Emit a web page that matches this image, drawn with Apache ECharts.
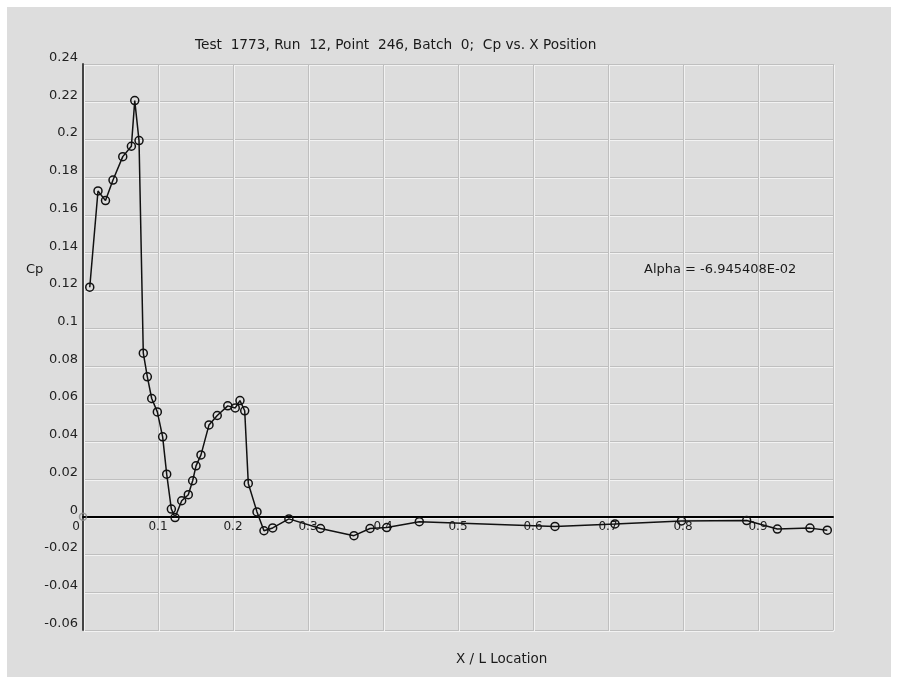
<!DOCTYPE html>
<html>
<head>
<meta charset="utf-8">
<script src="https://cdn.jsdelivr.net/npm/echarts@6/dist/echarts.min.js"></script>
<style>
  html, body { margin: 0; padding: 0; background: #ffffff; }
  #chart { width: 898px; height: 683px; }
</style>
</head>
<body>
<div id="chart"></div>
<script>
// Pressure coefficient along the body, X/L station vs Cp
const xLocation = [0.009, 0.020, 0.030, 0.040, 0.053, 0.0645, 0.069, 0.0747, 0.0804, 0.0858,
  0.0916, 0.0991, 0.1062, 0.1116, 0.1178, 0.1227, 0.1316, 0.1404, 0.1462, 0.1507,
  0.1573, 0.168, 0.179, 0.193, 0.203, 0.2093, 0.2156, 0.2204, 0.232, 0.2413,
  0.2529, 0.2745, 0.3167, 0.3613, 0.3827, 0.405, 0.4484, 0.6293, 0.7093, 0.798,
  0.8849, 0.9258, 0.9693, 0.9924];
const cpValues = [0.1217, 0.1727, 0.1676, 0.1785, 0.1909, 0.1964, 0.2206, 0.1994, 0.0867, 0.0742,
  0.0627, 0.0556, 0.0424, 0.0226, 0.0041, -0.0004, 0.0085, 0.0117, 0.0191, 0.0270,
  0.0328, 0.0487, 0.0537, 0.0588, 0.0577, 0.0616, 0.0562, 0.0177, 0.0026, -0.0074,
  -0.0059, -0.0011, -0.0062, -0.0100, -0.0062, -0.0057, -0.0026, -0.0051, -0.0038, -0.0022,
  -0.0020, -0.0065, -0.0060, -0.0071];
const originPoint = [[0, 0]];

const titleText = 'Test  1773, Run  12, Point  246, Batch  0;  Cp vs. X Position';
const alphaText = 'Alpha = -6.945408E-02';
const xName = 'X / L Location';
const yName = 'Cp';

const labelFont = 'DejaVu Sans, Verdana, sans-serif';
const points = xLocation.map((x, i) => [x, cpValues[i]]);

const chart = echarts.init(document.getElementById('chart'), null, { renderer: 'canvas' });

// main plot area, a 1px-offset copy for the light grid highlight,
// and a strip ending at Cp = 0 that carries the X/L tick labels under the zero line
const gridMain = { left: 83, top: 64, right: 65, bottom: 53 };
const gridHi = { left: 84, top: 65, right: 64, bottom: 52 };
const gridZeroLabels = { left: 83, top: 300, right: 65, bottom: 166 };

const hiddenAxisParts = {
  axisLine: { show: false }, axisTick: { show: false }, axisLabel: { show: false }
};

chart.setOption({
  animation: false,
  backgroundColor: '#ffffff',
  graphic: [
    { type: 'rect', z: -10, silent: true,
      shape: { x: 7, y: 7, width: 884, height: 670 },
      style: { fill: '#dddddd' } },
    { type: 'text', left: 195, top: 38, z: 10,
      style: { text: titleText, font: '13.7px ' + labelFont, fill: '#1a1a1a' } },
    { type: 'text', left: 26, top: 263, z: 10,
      style: { text: yName, font: '13px ' + labelFont, fill: '#1a1a1a' } },
    { type: 'text', left: 644, top: 263, z: 10,
      style: { text: alphaText, font: '13px ' + labelFont, fill: '#1a1a1a' } },
    { type: 'text', left: 456, top: 652, z: 10,
      style: { text: xName, font: '13.5px ' + labelFont, fill: '#1a1a1a' } }
  ],
  grid: [gridMain, gridHi, gridZeroLabels],
  xAxis: [
    {
      type: 'value', gridIndex: 0, min: 0, max: 1, interval: 0.1,
      axisLine: { show: true, onZero: true, lineStyle: { color: '#000000', width: 2 } },
      axisTick: { show: false },
      axisLabel: { show: false },
      splitLine: { show: true, lineStyle: { color: '#bfbfbf', width: 1 } }
    },
    Object.assign({
      type: 'value', gridIndex: 1, min: 0, max: 1, interval: 0.1,
      splitLine: { show: true, lineStyle: { color: '#f2f2f2', width: 1 } }
    }, hiddenAxisParts),
    {
      type: 'value', gridIndex: 2, min: 0, max: 1, interval: 0.1,
      axisLine: { show: false },
      axisTick: { show: false },
      splitLine: { show: false },
      axisLabel: {
        margin: 4,
        showMaxLabel: false,
        color: '#222222',
        fontFamily: labelFont,
        fontSize: 12,
        formatter: function (v) {
          if (v === 0) return '{z|0}';
          return String(Math.round(v * 10) / 10);
        },
        rich: { z: { padding: [0, 14, 0, 0], fontSize: 12, fontFamily: labelFont, color: '#222222' } }
      }
    }
  ],
  yAxis: [
    {
      type: 'value', gridIndex: 0, min: -0.06, max: 0.24, interval: 0.02,
      axisLine: { show: true, lineStyle: { color: '#444444', width: 2 } },
      axisTick: { show: false },
      splitLine: { show: true, lineStyle: { color: '#bfbfbf', width: 1 } },
      axisLabel: {
        margin: 5,
        color: '#222222',
        fontFamily: labelFont,
        fontSize: 13,
        verticalAlign: 'bottom',
        formatter: function (v) {
          const r = Math.round(v * 100) / 100;
          return r === 0 ? '0' : String(r);
        }
      }
    },
    Object.assign({
      type: 'value', gridIndex: 1, min: -0.06, max: 0.24, interval: 0.02,
      splitLine: { show: true, lineStyle: { color: '#f2f2f2', width: 1 } }
    }, hiddenAxisParts),
    Object.assign({
      type: 'value', gridIndex: 2, min: 0, max: 1,
      splitLine: { show: false }
    }, hiddenAxisParts)
  ],
  series: [
    {
      type: 'line',
      xAxisIndex: 0, yAxisIndex: 0,
      data: points,
      z: 5,
      symbol: 'circle',
      symbolSize: 8,
      showAllSymbol: true,
      lineStyle: { color: '#111111', width: 1.5 },
      itemStyle: { color: 'rgba(0,0,0,0)', borderColor: '#111111', borderWidth: 1.5 }
    },
    {
      type: 'scatter',
      xAxisIndex: 0, yAxisIndex: 0,
      data: originPoint,
      z: 6,
      symbol: 'circle',
      symbolSize: 7,
      itemStyle: { color: 'rgba(0,0,0,0)', borderColor: '#888888', borderWidth: 1.5 }
    }
  ]
});
</script>
</body>
</html>
